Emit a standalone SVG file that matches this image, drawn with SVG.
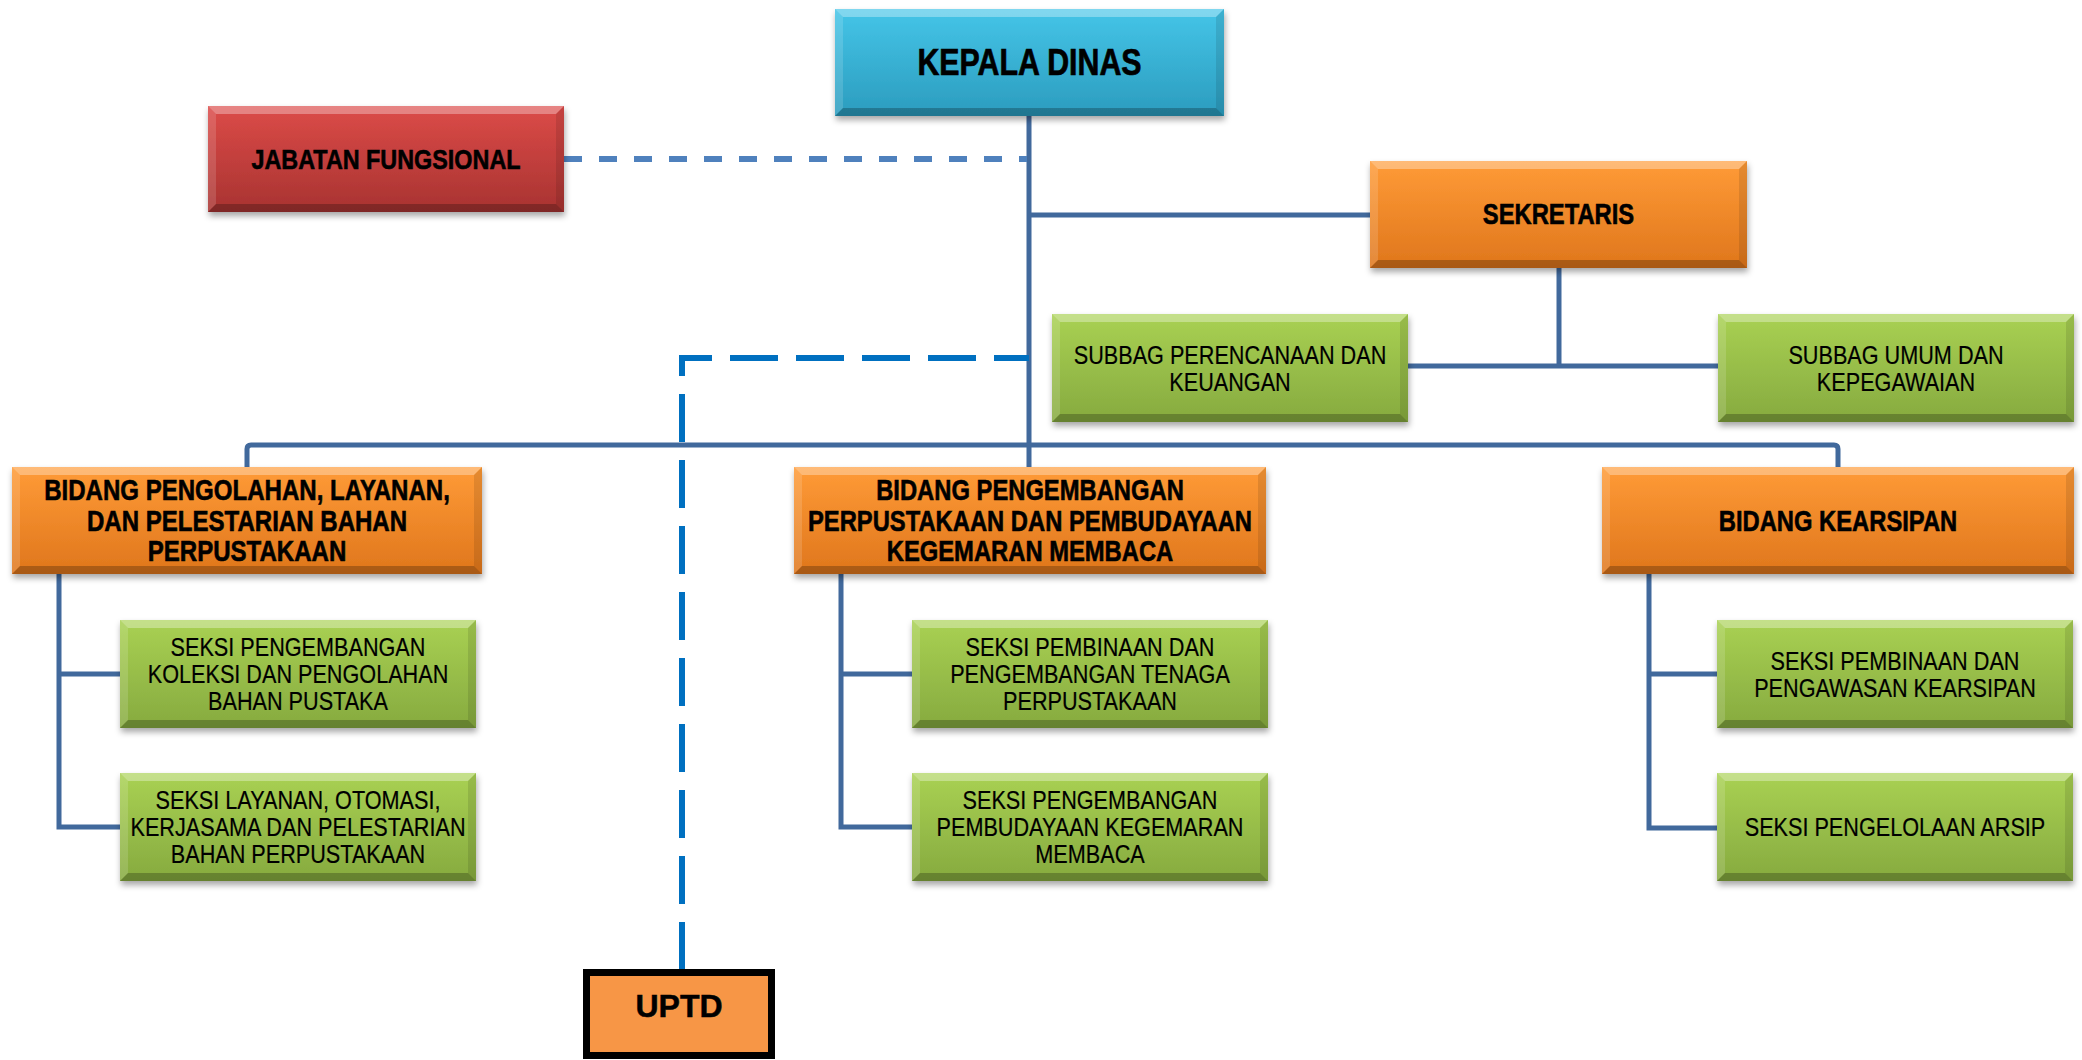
<svg xmlns="http://www.w3.org/2000/svg" width="2082" height="1060" viewBox="0 0 2082 1060">
<style>
.t{font-family:"Liberation Sans",Arial,sans-serif;fill:#000;text-anchor:middle}
.b{font-weight:bold;font-size:29px;stroke:#000;stroke-width:0.6}
.r{font-size:26.4px;stroke:#000;stroke-width:0.2}
.ln{fill:none;stroke:#41699C;stroke-width:5}
.bt{fill:#fff;fill-opacity:.32}
.bl{fill:#fff;fill-opacity:.14}
.br{fill:#000;fill-opacity:.1}
.bb{fill:#000;fill-opacity:.24}
.box{filter:url(#sh)}
</style>
<defs>
<filter id="sh" x="-10%" y="-20%" width="120%" height="150%">
<feDropShadow dx="1" dy="4" stdDeviation="3" flood-color="#000" flood-opacity="0.35"/>
</filter>
<linearGradient id="gBlue" x1="0" y1="0" x2="0" y2="1"><stop offset="0" stop-color="#45C5E8"/><stop offset="1" stop-color="#2B9CBE"/></linearGradient>
<linearGradient id="gRed" x1="0" y1="0" x2="0" y2="1"><stop offset="0" stop-color="#DC4B48"/><stop offset="1" stop-color="#A83331"/></linearGradient>
<linearGradient id="gOr" x1="0" y1="0" x2="0" y2="1"><stop offset="0" stop-color="#FF9B37"/><stop offset="1" stop-color="#DF761C"/></linearGradient>
<linearGradient id="gGr" x1="0" y1="0" x2="0" y2="1"><stop offset="0" stop-color="#A9D153"/><stop offset="1" stop-color="#86AA3F"/></linearGradient>
</defs>

<g id="connectors">
<path class="ln" d="M1029,116 V467"/>
<path class="ln" d="M1029,215 H1370"/>
<path class="ln" d="M1559,268 V366"/>
<path class="ln" d="M1408,366 H1718"/>
<path class="ln" d="M247,467 V449 Q247,445 251,445 H1834 Q1838,445 1838,449 V467"/>
<path class="ln" d="M59,574 V827 H120 M59,674 H120"/>
<path class="ln" d="M841,574 V827 H912 M841,674 H912"/>
<path class="ln" d="M1649,574 V828 H1717 M1649,674 H1717"/>
<path d="M564,159 H1027" fill="none" stroke="#4F81BD" stroke-width="6" stroke-dasharray="18 17"/>
<path d="M1029,358 H682 V969" fill="none" stroke="#0070C0" stroke-width="6" stroke-dasharray="48 18" stroke-dashoffset="13"/>
</g>

<g id="kepala-dinas">
<rect class="box" x="835" y="9" width="389" height="107" fill="url(#gBlue)"/>
<polygon class="bt" points="835,9 1224,9 1216,17 843,17"/>
<polygon class="bl" points="835,9 843,17 843,108 835,116"/>
<polygon class="br" points="1224,9 1224,116 1216,108 1216,17"/>
<polygon class="bb" points="835,116 843,108 1216,108 1224,116"/>
<text class="t b" style="font-size:37px;stroke-width:0.7" transform="translate(1029.5,0) scale(0.82,1)" x="0" y="75">KEPALA DINAS</text>
</g>

<g id="jabatan-fungsional">
<rect class="box" x="208" y="106" width="356" height="106" fill="url(#gRed)"/>
<polygon class="bt" points="208,106 564,106 556,114 216,114"/>
<polygon class="bl" points="208,106 216,114 216,204 208,212"/>
<polygon class="br" points="564,106 564,212 556,204 556,114"/>
<polygon class="bb" points="208,212 216,204 556,204 564,212"/>
<text class="t b" style="font-size:28.5px" transform="translate(386,0) scale(0.82,1)" x="0" y="169">JABATAN FUNGSIONAL</text>
</g>

<g id="sekretaris">
<rect class="box" x="1370" y="161" width="377" height="107" fill="url(#gOr)"/>
<polygon class="bt" points="1370,161 1747,161 1739,169 1378,169"/>
<polygon class="bl" points="1370,161 1378,169 1378,260 1370,268"/>
<polygon class="br" points="1747,161 1747,268 1739,260 1739,169"/>
<polygon class="bb" points="1370,268 1378,260 1739,260 1747,268"/>
<text class="t b" transform="translate(1558.5,0) scale(0.82,1)" x="0" y="224">SEKRETARIS</text>
</g>

<g id="subbag-perencanaan">
<rect class="box" x="1052" y="314" width="356" height="108" fill="url(#gGr)"/>
<polygon class="bt" points="1052,314 1408,314 1400,322 1060,322"/>
<polygon class="bl" points="1052,314 1060,322 1060,414 1052,422"/>
<polygon class="br" points="1408,314 1408,422 1400,414 1400,322"/>
<polygon class="bb" points="1052,422 1060,414 1400,414 1408,422"/>
<text class="t r" transform="translate(1230,0) scale(0.82,1)"><tspan x="0" y="364">SUBBAG PERENCANAAN DAN</tspan><tspan x="0" y="391">KEUANGAN</tspan></text>
</g>

<g id="subbag-umum">
<rect class="box" x="1718" y="314" width="356" height="108" fill="url(#gGr)"/>
<polygon class="bt" points="1718,314 2074,314 2066,322 1726,322"/>
<polygon class="bl" points="1718,314 1726,322 1726,414 1718,422"/>
<polygon class="br" points="2074,314 2074,422 2066,414 2066,322"/>
<polygon class="bb" points="1718,422 1726,414 2066,414 2074,422"/>
<text class="t r" transform="translate(1896,0) scale(0.82,1)"><tspan x="0" y="364">SUBBAG UMUM DAN</tspan><tspan x="0" y="391">KEPEGAWAIAN</tspan></text>
</g>

<g id="bidang-pengolahan">
<rect class="box" x="12" y="467" width="470" height="107" fill="url(#gOr)"/>
<polygon class="bt" points="12,467 482,467 474,475 20,475"/>
<polygon class="bl" points="12,467 20,475 20,566 12,574"/>
<polygon class="br" points="482,467 482,574 474,566 474,475"/>
<polygon class="bb" points="12,574 20,566 474,566 482,574"/>
<text class="t b" transform="translate(247,0) scale(0.83,1)"><tspan x="0" y="500">BIDANG PENGOLAHAN, LAYANAN,</tspan><tspan x="0" y="531">DAN PELESTARIAN BAHAN</tspan><tspan x="0" y="561">PERPUSTAKAAN</tspan></text>
</g>

<g id="bidang-pengembangan">
<rect class="box" x="794" y="467" width="472" height="107" fill="url(#gOr)"/>
<polygon class="bt" points="794,467 1266,467 1258,475 802,475"/>
<polygon class="bl" points="794,467 802,475 802,566 794,574"/>
<polygon class="br" points="1266,467 1266,574 1258,566 1258,475"/>
<polygon class="bb" points="794,574 802,566 1258,566 1266,574"/>
<text class="t b" transform="translate(1030,0) scale(0.82,1)"><tspan x="0" y="500">BIDANG PENGEMBANGAN</tspan><tspan x="0" y="531">PERPUSTAKAAN DAN PEMBUDAYAAN</tspan><tspan x="0" y="561">KEGEMARAN MEMBACA</tspan></text>
</g>

<g id="bidang-kearsipan">
<rect class="box" x="1602" y="467" width="472" height="107" fill="url(#gOr)"/>
<polygon class="bt" points="1602,467 2074,467 2066,475 1610,475"/>
<polygon class="bl" points="1602,467 1610,475 1610,566 1602,574"/>
<polygon class="br" points="2074,467 2074,574 2066,566 2066,475"/>
<polygon class="bb" points="1602,574 1610,566 2066,566 2074,574"/>
<text class="t b" transform="translate(1838,0) scale(0.82,1)" x="0" y="531">BIDANG KEARSIPAN</text>
</g>

<g id="seksi-pengembangan-koleksi">
<rect class="box" x="120" y="620" width="356" height="108" fill="url(#gGr)"/>
<polygon class="bt" points="120,620 476,620 468,628 128,628"/>
<polygon class="bl" points="120,620 128,628 128,720 120,728"/>
<polygon class="br" points="476,620 476,728 468,720 468,628"/>
<polygon class="bb" points="120,728 128,720 468,720 476,728"/>
<text class="t r" transform="translate(298,0) scale(0.82,1)"><tspan x="0" y="656.5">SEKSI PENGEMBANGAN</tspan><tspan x="0" y="683.5">KOLEKSI DAN PENGOLAHAN</tspan><tspan x="0" y="710.5">BAHAN PUSTAKA</tspan></text>
</g>

<g id="seksi-layanan">
<rect class="box" x="120" y="773" width="356" height="108" fill="url(#gGr)"/>
<polygon class="bt" points="120,773 476,773 468,781 128,781"/>
<polygon class="bl" points="120,773 128,781 128,873 120,881"/>
<polygon class="br" points="476,773 476,881 468,873 468,781"/>
<polygon class="bb" points="120,881 128,873 468,873 476,881"/>
<text class="t r" transform="translate(298,0) scale(0.82,1)"><tspan x="0" y="809.5">SEKSI LAYANAN, OTOMASI,</tspan><tspan x="0" y="836.5">KERJASAMA DAN PELESTARIAN</tspan><tspan x="0" y="863.5">BAHAN PERPUSTAKAAN</tspan></text>
</g>

<g id="seksi-pembinaan-tenaga">
<rect class="box" x="912" y="620" width="356" height="108" fill="url(#gGr)"/>
<polygon class="bt" points="912,620 1268,620 1260,628 920,628"/>
<polygon class="bl" points="912,620 920,628 920,720 912,728"/>
<polygon class="br" points="1268,620 1268,728 1260,720 1260,628"/>
<polygon class="bb" points="912,728 920,720 1260,720 1268,728"/>
<text class="t r" transform="translate(1090,0) scale(0.82,1)"><tspan x="0" y="656.5">SEKSI PEMBINAAN DAN</tspan><tspan x="0" y="683.5">PENGEMBANGAN TENAGA</tspan><tspan x="0" y="710.5">PERPUSTAKAAN</tspan></text>
</g>

<g id="seksi-pembudayaan">
<rect class="box" x="912" y="773" width="356" height="108" fill="url(#gGr)"/>
<polygon class="bt" points="912,773 1268,773 1260,781 920,781"/>
<polygon class="bl" points="912,773 920,781 920,873 912,881"/>
<polygon class="br" points="1268,773 1268,881 1260,873 1260,781"/>
<polygon class="bb" points="912,881 920,873 1260,873 1268,881"/>
<text class="t r" transform="translate(1090,0) scale(0.82,1)"><tspan x="0" y="809.5">SEKSI PENGEMBANGAN</tspan><tspan x="0" y="836.5">PEMBUDAYAAN KEGEMARAN</tspan><tspan x="0" y="863.5">MEMBACA</tspan></text>
</g>

<g id="seksi-pengawasan-kearsipan">
<rect class="box" x="1717" y="620" width="356" height="108" fill="url(#gGr)"/>
<polygon class="bt" points="1717,620 2073,620 2065,628 1725,628"/>
<polygon class="bl" points="1717,620 1725,628 1725,720 1717,728"/>
<polygon class="br" points="2073,620 2073,728 2065,720 2065,628"/>
<polygon class="bb" points="1717,728 1725,720 2065,720 2073,728"/>
<text class="t r" transform="translate(1895,0) scale(0.82,1)"><tspan x="0" y="670">SEKSI PEMBINAAN DAN</tspan><tspan x="0" y="697">PENGAWASAN KEARSIPAN</tspan></text>
</g>

<g id="seksi-pengelolaan-arsip">
<rect class="box" x="1717" y="773" width="356" height="108" fill="url(#gGr)"/>
<polygon class="bt" points="1717,773 2073,773 2065,781 1725,781"/>
<polygon class="bl" points="1717,773 1725,781 1725,873 1717,881"/>
<polygon class="br" points="2073,773 2073,881 2065,873 2065,781"/>
<polygon class="bb" points="1717,881 1725,873 2065,873 2073,881"/>
<text class="t r" transform="translate(1895,0) scale(0.82,1)" x="0" y="836.5">SEKSI PENGELOLAAN ARSIP</text>
</g>

<g id="uptd">
<rect x="590" y="975" width="185" height="83" fill="#E8B58A"/>
<rect x="586.5" y="972.5" width="185" height="83" fill="#F79646" stroke="#000" stroke-width="7"/>
<text class="t" style="font-weight:bold;font-size:32px;stroke:#000;stroke-width:0.5" x="679" y="1017">UPTD</text>
</g>
</svg>
